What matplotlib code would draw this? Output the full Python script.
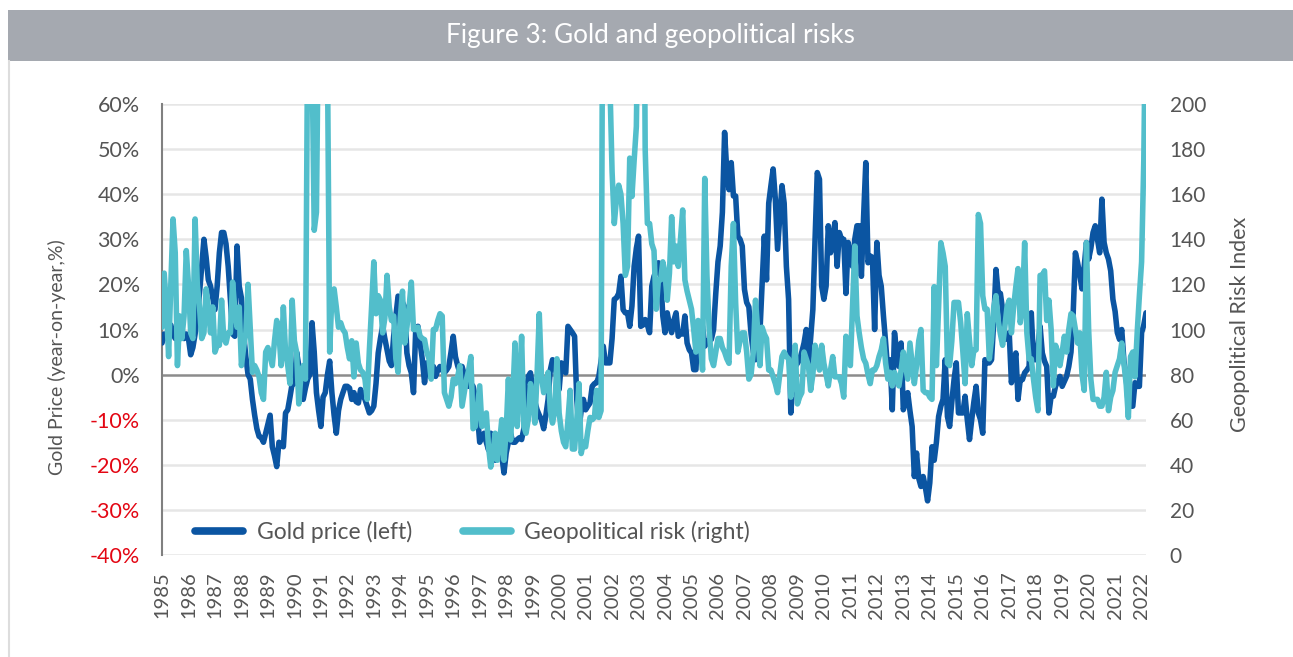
import matplotlib.pyplot as plt
import numpy as np
from matplotlib.lines import Line2D
from matplotlib.patches import Rectangle

plt.rcParams['font.family'] = ['Lato', 'DejaVu Sans']

# x axis labels, one per January (data is monthly, Jan 1985 - Mar 2022)
years = list(range(1985, 2023))

# gold price, year-on-year change in % (left axis), one row per year
gold_yoy = [
    7, 9, 8, 10, 11, 9, 8, 9, 11, 10, 8, 9,
    8, 4.4, 6, 9, 13, 18, 24, 30, 26, 21, 19.6, 17,
    14.4, 19.6, 27, 31.5, 31.5, 29, 24, 16.7, 9, 8.5, 28.5, 19.6,
    17, 9, 4, 0, -1, -5.5, -9, -12, -13.7, -14, -15, -13,
    -11, -9, -16, -18, -20.4, -15, -15.5, -16, -8.5, -7.8, -5, -2,
    -2, 5, 2, 0, -5.5, -3, -1, 0, 11.5, 5, -4, -8,
    -11.5, -5, -4, 0, 3, -4, -9, -13, -8, -5.5, -4, -2.6,
    -2.6, -3, -5.5, -4, -6, -6.3, -3.3, -4.5, -5.5, -7, -8.5, -8,
    -7, -2, 4.8, 8, 10.7, 8, 5.5, 3, 2, 8.5, 13, 17.4,
    16.7, 16, 15, 4.8, 2, 0.4, -4, 10, 10.7, 7, 3.3, -1.8,
    2.6, 2, 1.5, 1.8, -0.4, 1, 1.8, 1, 0.4, 1, 1.8, 5,
    8.5, 4, 2, 0.4, 1.8, 0, -2, -2.6, -2, -2.6, -5, -9,
    -15, -14, -13, -15, -16.7, -13, -16, -19, -13.7, -16, -18, -21.8,
    -17.4, -15, -13, -15, -15, -14.4, -14, -14.4, -12, -6, -0.4, 0.4,
    -3, -6, -7.8, -9, -10, -12, -9, -5.5, 1, 3.3, 2.6, -1,
    -3.3, 2.6, 1, 0.4, 10.7, 10, 9.3, 8.5, -5.5, -12, -8, -5.5,
    -7.8, -7, -6.3, -2.6, -2, -1.8, -0.4, 3, 6.3, 2.6, 2.6, 2.6,
    8, 16.7, 17, 18, 21.8, 14.4, 13.7, 13.7, 10.7, 15.2, 24, 28,
    30.7, 10.7, 11, 12.2, 11, 9.3, 19.6, 21.8, 23, 24.8, 21.8, 13,
    9.3, 13.7, 11, 9.3, 12, 13.7, 8.5, 9.3, 9, 13, 7, 5.5,
    4.8, 1.1, 1.1, 11.5, 11, 10.7, 6.3, 7, 7.8, 7.8, 10, 18,
    25, 28.5, 36, 53.7, 45, 41, 47, 39.6, 39.6, 30.7, 30, 28.5,
    18.9, 16, 15, 9, 5, 3.3, 6, 9.3, 20, 30.7, 21, 38,
    41.9, 45.6, 38.9, 27.8, 35, 41.9, 38, 24, 16.7, -8.5, -1.8, 1.8,
    2.5, 3.3, 5, 7, 10, 1.8, 8, 14.4, 30, 44.8, 43.3, 19.6,
    16.7, 19.6, 33, 27, 30, 33.7, 24, 31.5, 30, 30, 18, 29.3,
    26, 24, 30, 33, 33, 21.8, 35, 47, 24.8, 26.3, 26, 10,
    29.3, 22, 19.6, 13, 7, 0.4, 3.3, -7.8, 9.3, 5, 1.8, 7,
    -7.8, -6, -4, -8, -11.5, -22.6, -17.4, -23, -24.8, -22.6, -25, -28,
    -24, -16, -19, -15, -9.3, -7, -5.5, 3.3, -9.3, -11.5, -6, -1.1,
    2.6, -8.5, -8.5, -8.5, -4.8, -10, -14.4, -10, -6, -2.6, -8.5, -10,
    -13, 3.3, 2.6, 2.6, 3.3, 12, 23.3, 18, 18, 14.4, 7.8, 8,
    9.3, -1.8, 2, 4.8, -5.5, -1.1, -1.1, 0.4, 1, 1.8, 13.7, 3.3,
    3.3, 6, 10.7, 4.8, 3, 1.8, -8.5, -4.8, -4.8, -2.6, -1.5, -0.4,
    -2.6, -1.5, -0.4, 1.8, 5, 13.7, 27, 24.8, 22, 19, 24, 29.3,
    25.6, 28, 31.5, 33, 30, 27, 38.9, 29.3, 27, 25.6, 23, 16.7,
    14, 9.3, 7.8, 10, 3, -0.4, -7, -7, -7, -1.8, -2.6, -2.6,
    9.3, 11, 13.7,
]

# geopolitical risk index (right axis), one row per year
geo_risk = [
    101, 125, 110, 88, 120, 149, 134, 84, 106, 96, 106, 135,
    120, 98.5, 96, 149, 120, 110, 96, 98.5, 118, 110, 98.5, 110,
    90, 93, 93, 113, 96, 94, 98.5, 98.5, 121, 109, 101, 110,
    84, 92, 98.5, 120, 100, 81, 84, 82, 79, 72, 69, 90,
    92, 88, 84, 95, 104, 98.5, 84, 110, 90, 84, 76, 113,
    95, 90, 67, 80, 84, 78, 230, 300, 220, 144, 152, 250,
    350, 300, 220, 220, 90, 115, 118, 110, 101, 103, 100, 98.5,
    92, 87, 95, 79, 94, 85, 82, 81, 78, 69, 91, 110,
    130, 107, 115, 113, 98.5, 105, 124, 110, 104, 106, 87, 81,
    105, 117, 94, 101, 110, 121, 100, 100, 101, 97, 96, 95.5,
    90, 87, 78, 100, 100, 104, 107, 106, 72, 69, 66, 70,
    78, 76, 79, 84, 66, 72, 78, 82, 88, 56, 57, 66,
    75, 57, 60, 63, 48, 39, 45, 54, 42, 50, 60, 42,
    55, 78, 51, 70, 94, 57, 75, 97, 57, 54, 60, 76,
    70, 58.5, 80, 107, 79, 72, 76, 81, 64, 58.5, 64, 87,
    63, 55, 50, 48, 60, 73, 47, 47, 60, 76, 45, 50,
    48, 55, 61, 60, 61, 73, 61, 64, 330, 280, 230, 210,
    170, 147, 158, 164, 160, 147, 124, 128, 176, 159, 175, 190,
    260, 300, 350, 180, 147, 147, 138, 135, 109, 122, 122, 130,
    125, 113, 125, 150, 130, 137, 128, 140, 153, 122, 117, 113,
    109, 100, 90, 104, 95, 82, 167, 124, 100, 87, 84, 90,
    96, 96, 92, 90, 87, 85, 128, 147, 112, 90, 95, 98.5,
    98.5, 90, 78, 80, 90, 113, 100, 84, 101, 98, 96, 82,
    82, 79, 76, 72, 80, 88, 90, 88, 87, 70, 80, 93,
    67, 70, 72, 90, 87, 84, 73, 80, 93, 88, 82, 93,
    85, 80, 75, 82, 88, 79, 79, 79, 76, 70, 97, 90,
    84, 110, 137, 106, 98.5, 92, 87, 85, 80, 76, 82, 82,
    84, 88, 91, 96, 85, 78, 81, 75, 81, 78, 75, 82,
    90, 84, 78, 94, 85, 76, 84, 95, 100, 73, 72, 72,
    70, 69, 119, 84, 110, 138.5, 134, 128, 85, 84, 95, 112,
    112, 112, 103, 90, 76, 107, 95, 84, 91, 91, 151, 147,
    115, 109, 109, 87, 95.5, 110, 115, 104, 98, 93, 101, 110,
    113, 98.5, 110, 119, 127, 103, 110, 138.5, 98.5, 87, 87, 78,
    70, 64, 124, 124, 126, 104, 113, 100, 75, 93, 90, 84,
    90, 97, 90, 100, 107, 106, 100, 94, 98.5, 80, 73, 138.5,
    100, 78, 69, 69, 69, 66, 66, 70, 81, 64, 70, 73,
    81, 84, 87, 94, 85, 76, 61, 88, 90, 79, 98.5, 115,
    130, 175, 260,
]

left_ticks = [-40, -30, -20, -10, 0, 10, 20, 30, 40, 50, 60]
right_ticks = [0, 20, 40, 60, 80, 100, 120, 140, 160, 180, 200]

W, H = 1293, 657
gold_col = '#0B55A2'
risk_col = '#52BECB'
txt_col = '#555555'

fig = plt.figure(figsize=(W / 100, H / 100), dpi=100)

# grey title banner and frame line
fig.add_artist(Rectangle((8 / W, 1 - 61 / H), 1 - 8 / W, 51 / H,
                         transform=fig.transFigure, color='#A5A9B0', lw=0))
fig.text(650 / W, 1 - 35 / H, 'Figure 3: Gold and geopolitical risks',
         color='white', fontsize=18.8, ha='center', va='center')
fig.add_artist(Line2D([8.5 / W, 8.5 / W], [0, 1 - 61 / H],
                      transform=fig.transFigure, color='#DDDDDD', lw=1.5))

ax = fig.add_axes([162 / W, 1 - 555 / H, (1146 - 162) / W, (555 - 104) / H])
ax2 = ax.twinx()

months = np.arange(len(gold_yoy))

for t in left_ticks:
    if t == 0:
        ax.axhline(t, color='#8C8C8C', lw=1.8, zorder=1)
    else:
        ax.axhline(t, color='#E6E6E6', lw=1.8, zorder=0)

ax.plot(months, gold_yoy, color=gold_col, lw=4.0,
        solid_joinstyle='round', solid_capstyle='round', zorder=3)
ax2.plot(np.arange(len(geo_risk)), geo_risk, color=risk_col, lw=4.0,
         solid_joinstyle='round', solid_capstyle='round')

ax.set_xlim(0, len(gold_yoy) - 1)
ax.set_ylim(-40, 60)
ax2.set_ylim(0, 200)

ax.set_yticks(left_ticks)
ax.set_yticklabels([f'{t}%' for t in left_ticks])
for lab, t in zip(ax.get_yticklabels(), left_ticks):
    lab.set_color('#E30613' if t < 0 else txt_col)
ax.tick_params(axis='y', length=0, labelsize=15.5, pad=16)

ax2.set_yticks(right_ticks)
ax2.tick_params(axis='y', length=0, labelsize=15, pad=17, labelcolor=txt_col)

ax.set_xticks(np.arange(len(years)) * 12)
ax.set_xticklabels([str(y) for y in years], rotation=90)
ax.tick_params(axis='x', length=0, labelsize=14.5, pad=12, labelcolor=txt_col)

for s in ['top', 'right', 'bottom']:
    ax.spines[s].set_visible(False)
for s in ax2.spines.values():
    s.set_visible(False)
ax.spines['left'].set_color('#808080')
ax.spines['left'].set_linewidth(1.5)

fig.text(57 / W, 1 - 357 / H, 'Gold Price (year-on-year,%)', rotation=90,
         fontsize=14, color=txt_col, ha='center', va='center')
fig.text(1240 / W, 1 - 324 / H, 'Geopolitical Risk Index', rotation=90,
         fontsize=15.5, color=txt_col, ha='center', va='center')

handles = [Line2D([], [], color=gold_col, lw=5.5, solid_capstyle='round'),
           Line2D([], [], color=risk_col, lw=5.5, solid_capstyle='round')]
fig.legend(handles, ['Gold price (left)', 'Geopolitical risk (right)'],
           loc='center left', bbox_to_anchor=(195 / W, 1 - 532 / H),
           ncol=2, frameon=False, fontsize=16.5, labelcolor=txt_col,
           handlelength=2.1, handletextpad=0.6, columnspacing=2.2,
           borderpad=0, borderaxespad=0)

fig.savefig('out.png', dpi=100)
